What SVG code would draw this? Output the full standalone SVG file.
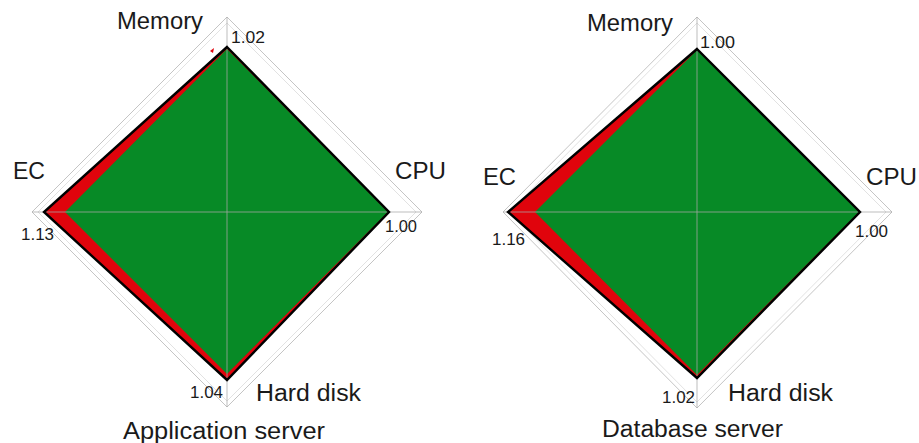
<svg xmlns="http://www.w3.org/2000/svg" width="919" height="443" viewBox="0 0 919 443">
<style>
.grid{fill:none;stroke:#c4c4c4;stroke-width:1}
.grid2{fill:none;stroke:#e2e2e2;stroke-width:1}
.axis{stroke:#a8a8a8;stroke-width:1;opacity:0.75}
.red{fill:#e0040c;stroke:none}
.green{fill:#078a26;stroke:none}
.outline{fill:none;stroke:#000;stroke-width:2.4;stroke-linejoin:miter}
.lbl{font-family:"Liberation Sans",Arial,Helvetica,sans-serif;font-size:23px;fill:#1a1a1a}
.num{font-family:"Liberation Sans",Arial,Helvetica,sans-serif;font-size:16px;fill:#1a1a1a}
</style>
<rect width="919" height="443" fill="#fff"/>

<g id="app-server">
  <polygon class="grid" points="227,17 422,212 227,407 32,212"/>
  <polygon class="grid2" points="227,23 416,212 227,401 38,212"/>
  <polygon class="red" points="227,47 389,212 227,380 44,212"/>
  <polygon class="green" points="227,49 388,212 227,374 65,212"/>
  <polygon class="red" points="210,51 214,48 213,53"/>
  <line class="axis" x1="227" y1="17" x2="227" y2="407"/>
  <line class="axis" x1="32" y1="212" x2="422" y2="212"/>
  <polygon class="outline" points="227,47 389,212 227,380 44,212"/>
  <text class="lbl" x="117" y="29" textLength="86" lengthAdjust="spacingAndGlyphs">Memory</text>
  <text class="num" x="231" y="43" textLength="34" lengthAdjust="spacingAndGlyphs">1.02</text>
  <text class="lbl" x="13" y="179" textLength="32" lengthAdjust="spacingAndGlyphs">EC</text>
  <text class="lbl" x="395" y="179" textLength="51" lengthAdjust="spacingAndGlyphs">CPU</text>
  <text class="num" x="21" y="240" textLength="33" lengthAdjust="spacingAndGlyphs">1.13</text>
  <text class="num" x="385" y="232" textLength="32" lengthAdjust="spacingAndGlyphs">1.00</text>
  <text class="num" x="190" y="398" textLength="33" lengthAdjust="spacingAndGlyphs">1.04</text>
  <text class="lbl" x="256" y="401" textLength="105" lengthAdjust="spacingAndGlyphs">Hard disk</text>
  <text class="lbl" x="123" y="439" textLength="202" lengthAdjust="spacingAndGlyphs">Application server</text>
</g>

<g id="db-server">
  <polygon class="grid" points="697,17 892,212 697,408 503,212"/>
  <polygon class="grid2" points="697,23 886,212 697,402 509,212"/>
  <polygon class="red" points="697,49 860,212 697,378 508,212"/>
  <polygon class="green" points="697,50 859,212 697,375 535,212"/>
  <line class="axis" x1="697" y1="17" x2="697" y2="408"/>
  <line class="axis" x1="503" y1="212" x2="892" y2="212"/>
  <polygon class="outline" points="697,49 860,212 697,378 508,212"/>
  <text class="lbl" x="587" y="31" textLength="86" lengthAdjust="spacingAndGlyphs">Memory</text>
  <text class="num" x="700" y="48" textLength="35" lengthAdjust="spacingAndGlyphs">1.00</text>
  <text class="lbl" x="483" y="185" textLength="33" lengthAdjust="spacingAndGlyphs">EC</text>
  <text class="lbl" x="866" y="185" textLength="51" lengthAdjust="spacingAndGlyphs">CPU</text>
  <text class="num" x="492" y="245" textLength="33" lengthAdjust="spacingAndGlyphs">1.16</text>
  <text class="num" x="855" y="237" textLength="33" lengthAdjust="spacingAndGlyphs">1.00</text>
  <text class="num" x="662" y="403" textLength="33" lengthAdjust="spacingAndGlyphs">1.02</text>
  <text class="lbl" x="728" y="401" textLength="105" lengthAdjust="spacingAndGlyphs">Hard disk</text>
  <text class="lbl" x="602" y="437" textLength="181" lengthAdjust="spacingAndGlyphs">Database server</text>
</g>
</svg>
